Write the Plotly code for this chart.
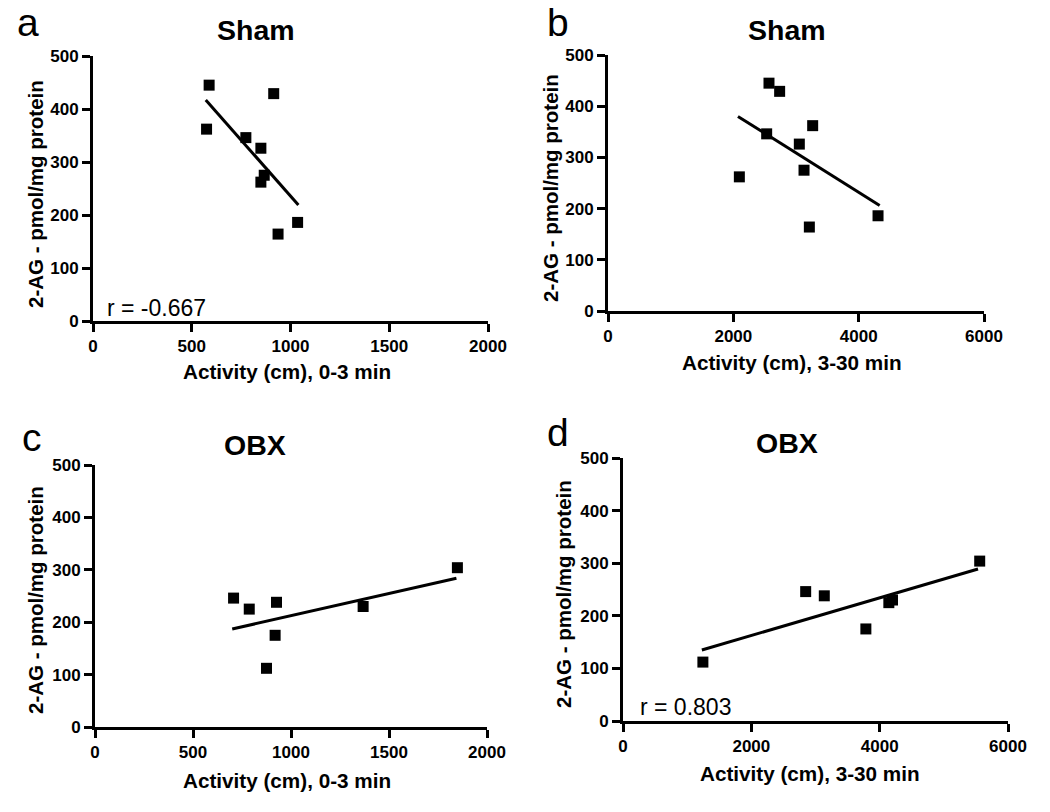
import plotly.graph_objects as go

# 2-AG levels (pmol/mg protein) against open-field activity
sham_2ag = [445, 362, 429, 346, 326, 275, 262, 186, 164]
sham_act_0_3 = [588, 575, 915, 774, 850, 867, 850, 1036, 937]
sham_act_3_30 = [2569, 3266, 2739, 2532, 3053, 3128, 2096, 4309, 3213]

obx_2ag = [246, 225, 238, 175, 112, 230, 304]
obx_act_0_3 = [707, 787, 926, 919, 875, 1368, 1849]
obx_act_3_30 = [2847, 4143, 3137, 3785, 1245, 4200, 5559]

# regression line end points
fit_a_x, fit_a_y = [571, 1040], [417, 219]
fit_b_x, fit_b_y = [2074, 4335], [380, 206]
fit_c_x, fit_c_y = [700, 1844], [187, 284]
fit_d_x, fit_d_y = [1229, 5533], [135, 289]

x_ticks_short = [0, 500, 1000, 1500, 2000]
x_ticks_long = [0, 2000, 4000, 6000]
y_ticks = [0, 100, 200, 300, 400, 500]

W, H = 1050, 812
OFF = 8  # the page body adds an 8px margin around the plot div
FONT = "Liberation Sans, Arial, sans-serif"


def px(x):
    return (x - OFF) / W


def py(y):
    return 1 - (y - OFF) / H


panels = [
    # letter, title, data, fit, x ticks, x title, plot box (px), text spots (px)
    dict(letter="a", title="Sham", x=sham_act_0_3, y=sham_2ag, fx=fit_a_x, fy=fit_a_y,
         xt=x_ticks_short, xtitle="Activity (cm), 0-3 min", box=(93, 488, 56, 321),
         letter_pos=(28, 23), title_pos=(256, 30), xt_pos=(287, 371), yt_pos=(35, 194),
         r="r = -0.667", r_pos=(105, 308)),
    dict(letter="b", title="Sham", x=sham_act_3_30, y=sham_2ag, fx=fit_b_x, fy=fit_b_y,
         xt=x_ticks_long, xtitle="Activity (cm), 3-30 min", box=(608, 984, 55, 311),
         letter_pos=(558, 23), title_pos=(787, 30), xt_pos=(792, 362), yt_pos=(550, 188),
         r=None, r_pos=None),
    dict(letter="c", title="OBX", x=obx_act_0_3, y=obx_2ag, fx=fit_c_x, fy=fit_c_y,
         xt=x_ticks_short, xtitle="Activity (cm), 0-3 min", box=(95, 487, 465, 727),
         letter_pos=(32, 437), title_pos=(255, 445), xt_pos=(287, 780), yt_pos=(35, 600),
         r=None, r_pos=None),
    dict(letter="d", title="OBX", x=obx_act_3_30, y=obx_2ag, fx=fit_d_x, fy=fit_d_y,
         xt=x_ticks_long, xtitle="Activity (cm), 3-30 min", box=(623, 1008, 458, 721),
         letter_pos=(558, 432), title_pos=(787, 443), xt_pos=(810, 773), yt_pos=(563, 594),
         r="r = 0.803", r_pos=(638, 707)),
]

fig = go.Figure()
annotations = []
layout = {}


def label(text, pos, size, angle=0, anchor="center"):
    return dict(
        text=text, x=px(pos[0]), y=py(pos[1]), xref="paper", yref="paper",
        xanchor=anchor, yanchor="middle", showarrow=False, textangle=angle,
        font=dict(family=FONT, size=size, color="black"))


for i, p in enumerate(panels):
    n = "" if i == 0 else str(i + 1)
    xref, yref = "x" + n, "y" + n

    fig.add_trace(go.Scatter(
        x=p["x"], y=p["y"], mode="markers",
        marker=dict(symbol="square", size=11, color="black"),
        xaxis=xref, yaxis=yref, showlegend=False, cliponaxis=False))
    fig.add_trace(go.Scatter(
        x=p["fx"], y=p["fy"], mode="lines",
        line=dict(color="black", width=3),
        xaxis=xref, yaxis=yref, showlegend=False))

    x0, x1, y0, y1 = p["box"]
    axis_style = dict(
        showline=True, linecolor="black", linewidth=3,
        ticks="outside", ticklen=8, tickwidth=3, tickcolor="black",
        showgrid=False, zeroline=False, automargin=False,
        tickfont=dict(family=FONT, size=17, color="black", weight="bold"),
    )
    layout["xaxis" + n] = dict(
        axis_style, domain=[px(x0), px(x1)], range=[0, p["xt"][-1]],
        tickvals=p["xt"], anchor=yref)
    layout["yaxis" + n] = dict(
        axis_style, domain=[py(y1), py(y0)], range=[0, 500],
        tickvals=y_ticks, anchor=xref)

    annotations.append(label(p["letter"], p["letter_pos"], 39))
    annotations.append(label("<b>%s</b>" % p["title"], p["title_pos"], 28.5))
    annotations.append(label("<b>%s</b>" % p["xtitle"], p["xt_pos"], 20.7))
    annotations.append(label("<b>2-AG - pmol/mg protein</b>", p["yt_pos"], 20.5, angle=-90))
    if p["r"]:
        annotations.append(label(p["r"], p["r_pos"], 23, anchor="left"))

fig.update_layout(
    width=W, height=H,
    margin=dict(l=0, r=0, t=0, b=0, autoexpand=False),
    paper_bgcolor="white", plot_bgcolor="white",
    annotations=annotations,
    **layout,
)

fig.write_html("out.html")
